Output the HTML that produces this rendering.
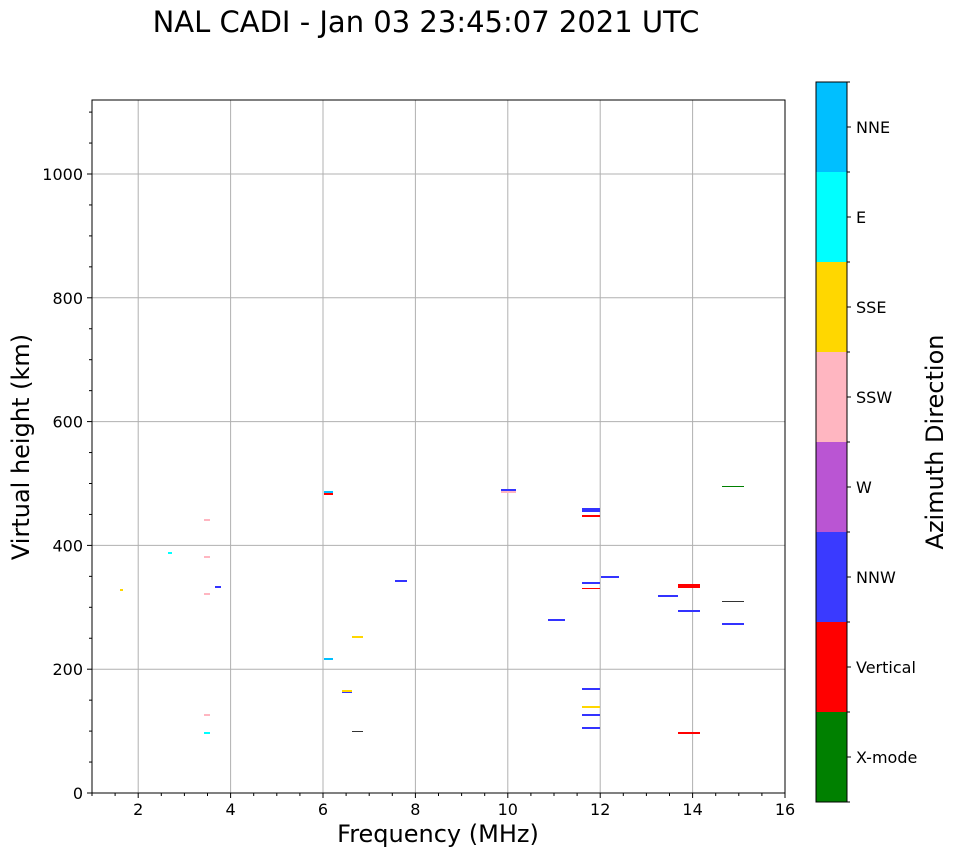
<!DOCTYPE html>
<html><head><meta charset="utf-8"><style>
body{margin:0;background:#fff}
svg{display:block;font-family:"DejaVu Sans","Liberation Sans",sans-serif}
</style></head><body>
<svg id="s" width="958" height="857" xmlns="http://www.w3.org/2000/svg"></svg>
<script>
const s=document.getElementById('s');let h='';
const X0=92,X1=785,Y0=793,Y1=100;
const fx=f=>X0+(f-1)*(X1-X0)/15, fy=k=>Y0-k*0.619;
h+='<rect width="958" height="857" fill="#fff"/>';
for(let f=2;f<=16;f+=2){const x=fx(f);h+=`<line x1="${x}" y1="${Y1}" x2="${x}" y2="${Y0}" stroke="#b0b0b0" stroke-width="1"/>`;}
for(let k=200;k<=1000;k+=200){const y=fy(k);h+=`<line x1="${X0}" y1="${y}" x2="${X1}" y2="${y}" stroke="#b0b0b0" stroke-width="1"/>`;}
const B=[[324,333,491,493,'#00bfff'],[324,333,493,495,'#f00'],[204,210,519,521,'#ffb6c1'],[168,172,552,554,'#0ff'],
[204,210,556,558,'#ffb6c1'],[120,123,589,591,'#ffd700'],[215,221,586,588,'#3333ff'],[204,210,593,595,'#ffb6c1'],
[395,407,580,582,'#3333ff'],[352,363,636,638,'#ffd700'],[324,333,658,660,'#00bfff'],[342,352,690,692,'#ffd700'],
[342,352,692,693,'#3333ff'],[204,210,714,716,'#ffb6c1'],[352,363,731,732,'#333'],[204,210,732,734,'#0ff'],
[501,516,491,493,'#ffb6c1'],[501,516,489,491,'#3333ff'],[582,600,508,512,'#3333ff'],[582,600,515,517,'#f00'],
[722,744,486,487,'#008000'],[601,619,576,578,'#3333ff'],[582,600,582,584,'#3333ff'],[582,600,588,589,'#f00'],
[678,700,584,588,'#f00'],[658,678,595,597,'#3333ff'],[722,744,601,602,'#333'],[678,700,610,612,'#3333ff'],
[548,565,619,621,'#3333ff'],[722,744,623,625,'#3333ff'],[582,600,688,690,'#3333ff'],[582,600,706,708,'#ffd700'],
[582,600,714,716,'#3333ff'],[582,600,727,729,'#3333ff'],[678,700,732,734,'#f00']];
for(const b of B)h+=`<rect x="${b[0]}" y="${b[2]}" width="${b[1]-b[0]}" height="${b[3]-b[2]}" fill="${b[4]}"/>`;
h+=`<rect x="${X0}" y="${Y1}" width="${X1-X0}" height="${Y0-Y1}" fill="none" stroke="#000" stroke-width="1"/>`;
for(let f=1;f<=16;f+=0.5){const x=fx(f);const maj=(f%2==0);h+=`<line x1="${x}" y1="${Y0}" x2="${x}" y2="${Y0+(maj?5:3)}" stroke="#000"/>`;
if(maj)h+=`<text x="${x}" y="${Y0+22}" font-size="16" text-anchor="middle">${f}</text>`;}
for(let k=0;k<=1100;k+=50){const y=fy(k);const maj=(k%200==0);h+=`<line x1="${X0}" y1="${y}" x2="${X0-(maj?5:3)}" y2="${y}" stroke="#000"/>`;
if(maj)h+=`<text x="${X0-9}" y="${y+6}" font-size="16" text-anchor="end">${k}</text>`;}
h+=`<text x="438" y="842" font-size="24" text-anchor="middle">Frequency (MHz)</text>`;
h+=`<text transform="translate(29,447) rotate(-90)" font-size="24" text-anchor="middle">Virtual height (km)</text>`;
h+=`<text x="426" y="32" font-size="29" text-anchor="middle">NAL CADI - Jan 03 23:45:07 2021 UTC</text>`;
const C=[['NNE','#00bfff'],['E','#0ff'],['SSE','#ffd700'],['SSW','#ffb6c1'],['W','#ba55d3'],['NNW','#3a3aff'],['Vertical','#f00'],['X-mode','#008000']];
const cy0=82,seg=90;
C.forEach((c,i)=>{const y=cy0+i*seg;h+=`<rect x="816" y="${y}" width="31" height="${seg}" fill="${c[1]}"/>`;
h+=`<line x1="847" y1="${y+45}" x2="851" y2="${y+45}" stroke="#000"/><text x="856" y="${y+51}" font-size="16">${c[0]}</text>`;
h+=`<line x1="847" y1="${y}" x2="850" y2="${y}" stroke="#000"/>`;});
h+=`<line x1="847" y1="802" x2="850" y2="802" stroke="#000"/>`;
h+=`<rect x="816" y="82" width="31" height="720" fill="none" stroke="#000"/>`;
h+=`<text transform="translate(943,442) rotate(-90)" font-size="24" text-anchor="middle">Azimuth Direction</text>`;
s.innerHTML=h;
</script>
</body></html>
